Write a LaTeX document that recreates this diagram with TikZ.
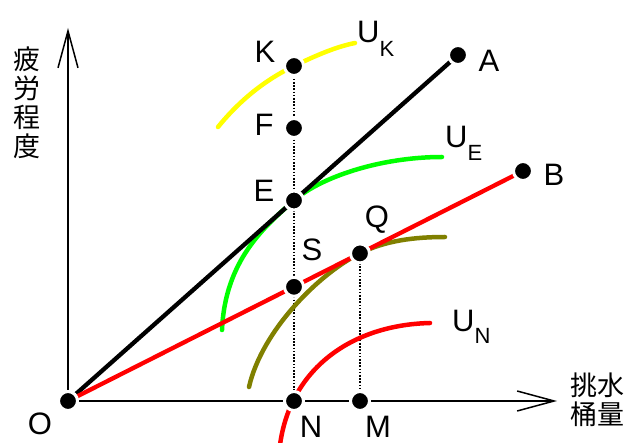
\documentclass[tikz,border=0pt]{standalone}
\usepackage{fontspec}
\setmainfont{Liberation Sans}
\newfontfamily\cjk{Noto Sans CJK JP}
\usetikzlibrary{arrows.meta}
\definecolor{ucolY}{RGB}{255,255,0}
\definecolor{ucolG}{RGB}{0,255,0}
\definecolor{ucolO}{RGB}{128,128,0}
\definecolor{ucolR}{RGB}{255,0,0}
\begin{document}
\begin{tikzpicture}[x=1pt,y=-1pt,
  axisline/.style={line width=1.5pt, -{Straight Barb[length=37pt,width=20pt,line width=1.5pt]}},
  guide/.style={line width=1.3pt, dash pattern=on 1.6pt off 1.6pt},
  mainline/.style={line width=4.3pt},
  ucurve/.style={line width=4.5pt, line cap=round},
  dot/.style={circle, fill=black, draw=white, line width=3pt, minimum size=19pt, inner sep=0pt},
  lbl/.style={font=\fontsize{31}{31}\selectfont, inner sep=0pt},
  ulbl/.style={font=\fontsize{31}{31}\selectfont, inner sep=0pt, anchor=base west},
  cjklbl/.style={font=\cjk\fontsize{27}{29}\selectfont, inner sep=0pt, align=center}
]
\useasboundingbox (0,0) rectangle (630,443);
% coordinates
\coordinate (O) at (68,401);
\coordinate (A) at (458,55);
\coordinate (B) at (523,171);
\coordinate (K) at (294,66);
\coordinate (F) at (294,128);
\coordinate (E) at (294,200.5);
\coordinate (S) at (294,286.8);
\coordinate (Q) at (360,253.4);
\coordinate (N) at (294,401);
\coordinate (M) at (360,401);
\coordinate (Ytip) at (68,28);
\coordinate (Xtip) at (557,401);
% axes
\draw[axisline] (O) -- (Ytip);
\draw[axisline] (O) -- (Xtip);
% guides
\draw[guide] (K) -- (N);
\draw[guide] (Q) -- (M);
% curves
\draw[ucurve, ucolY] (218,127) .. controls (240,100) and (265,80) .. (K)
   .. controls (315,56) and (335,47) .. (355,43);
\draw[ucurve, ucolG] (222,330) .. controls (225,260) and (265,226) .. (E)
   .. controls (320,177.5) and (380,157) .. (442,157);
\draw[ucurve, ucolO] (249,387) .. controls (262,330) and (320,273) .. (Q)
   .. controls (385,240.5) and (415,237) .. (445,237);
\draw[ucurve, ucolR] (280,445) .. controls (290,370) and (350,325) .. (430,323);
% main lines
\draw[mainline, black] (O) -- (A);
\draw[mainline, ucolR] (O) -- (B);
% dots
\foreach \p in {O,A,B,K,F,E,S,Q,N,M} \node[dot] (d\p) at (\p) {};
% labels
\node[lbl] (lO) at (40,424) {O};
\node[lbl] (lA) at (489,61) {A};
\node[lbl] (lB) at (554,175) {B};
\node[lbl] (lK) at (265,52) {K};
\node[lbl] (lF) at (264,125) {F};
\node[lbl] (lE) at (264,191) {E};
\node[lbl] (lQ) at (377,220) {Q};
\node[lbl] (lS) at (312,250) {S};
\node[lbl] (lN) at (311,427) {N};
\node[lbl] (lM) at (378,427) {M};
\node[ulbl] (uK) at (357,43) {U\raisebox{-14pt}{\fontsize{22}{22}\selectfont K}};
\node[ulbl] (uE) at (445,148) {U\raisebox{-13pt}{\fontsize{22}{22}\selectfont E}};
\node[ulbl] (uN) at (452,332) {U\raisebox{-12pt}{\fontsize{22}{22}\selectfont N}};
\node[cjklbl] (ylab) at (27,103) {疲\\労\\程\\度};
\node[cjklbl] (xlab) at (597,400) {挑水\\桶量};
\end{tikzpicture}
\end{document}
